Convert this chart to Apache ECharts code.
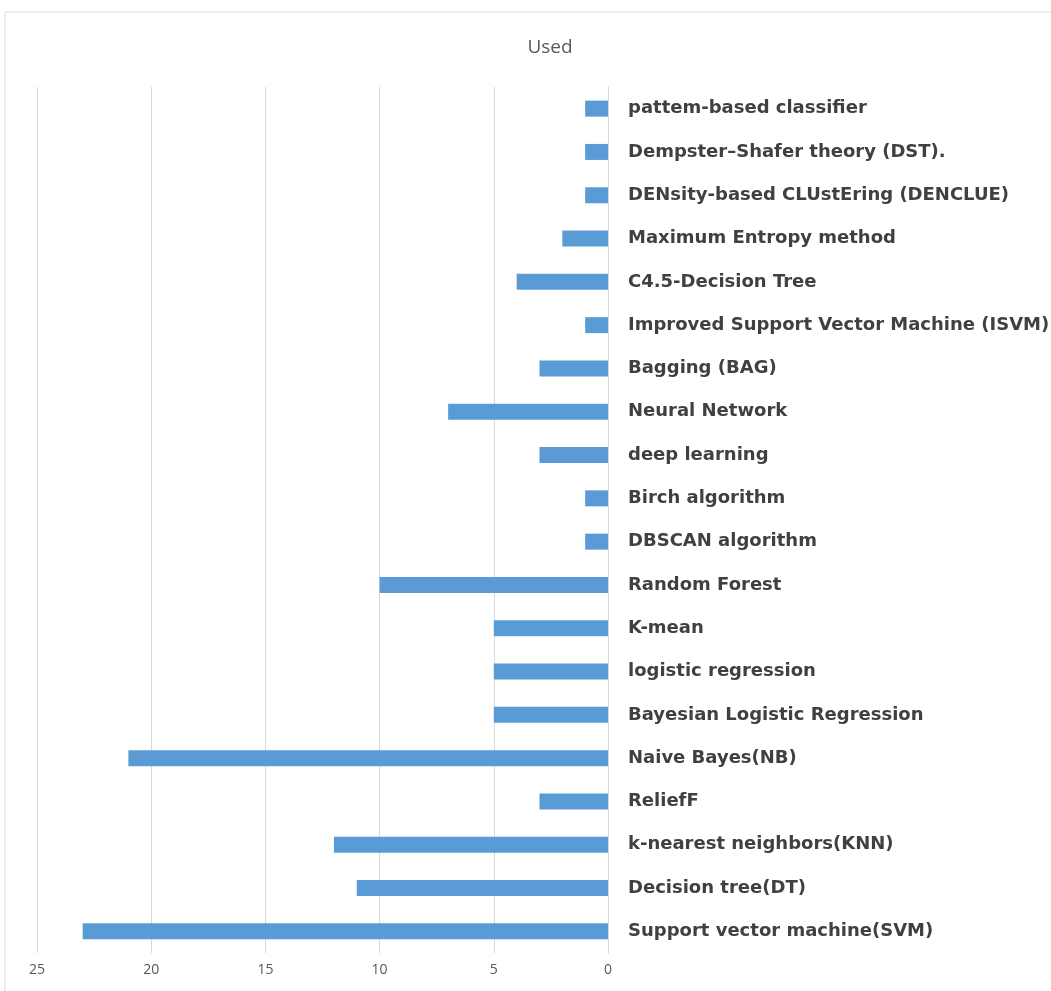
<!DOCTYPE html>
<html>
<head>
<meta charset="utf-8">
<script src="https://cdn.jsdelivr.net/npm/echarts@6/dist/echarts.min.js"></script>
<style>
  body { margin: 0; background: #fff; }
  #main { width: 1051px; height: 991px; }
</style>
</head>
<body>
<div id="main"></div>
<script>
// 数据
const categories = [
    'pattem-based classifier',
    'Dempster–Shafer theory (DST).',
    'DENsity-based CLUstEring (DENCLUE)',
    'Maximum Entropy method',
    'C4.5-Decision Tree',
    'Improved Support Vector Machine (ISVM)',
    'Bagging (BAG)',
    'Neural Network',
    'deep learning',
    'Birch algorithm',
    'DBSCAN algorithm',
    'Random Forest',
    'K-mean',
    'logistic regression',
    'Bayesian Logistic Regression',
    'Naive Bayes(NB)',
    'ReliefF',
    'k-nearest neighbors(KNN)',
    'Decision tree(DT)',
    'Support vector machine(SVM)'
];
const usedValues = [1, 1, 1, 2, 4, 1, 3, 7, 3, 1, 1, 10, 5, 5, 5, 21, 3, 12, 11, 23];
const axisMax = 25;
const axisStep = 5;

const myChart = echarts.init(document.getElementById('main'));

const option = {
    animation: false,
    title: {
        text: 'Used',
        left: 545,
        top: 33,
        textAlign: 'center',
        textStyle: {
            fontFamily: 'Open Sans',
            fontWeight: 'normal',
            fontSize: 19,
            color: '#595959'
        }
    },
    graphic: [{
        type: 'rect',
        shape: { x: 5, y: 12, width: 1100, height: 1100 },
        style: { fill: 'none', stroke: '#d9d9d9', lineWidth: 1 },
        silent: true
    }],
    grid: {
        left: 37,
        right: 443,
        top: 87,
        bottom: 38,
        outerBoundsMode: 'none'
    },
    xAxis: {
        type: 'value',
        inverse: true,
        min: 0,
        max: axisMax,
        interval: axisStep,
        axisLine: { show: false },
        axisTick: { show: false },
        splitLine: { lineStyle: { color: '#d9d9d9', width: 1 } },
        axisLabel: {
            color: '#595959',
            fontSize: 14,
            fontFamily: 'Open Sans',
            margin: 10
        }
    },
    yAxis: {
        type: 'category',
        position: 'right',
        inverse: true,
        data: categories,
        axisLine: { show: true, lineStyle: { color: '#d9d9d9' } },
        axisTick: { show: false },
        axisLabel: {
            color: '#404040',
            fontSize: 18,
            fontWeight: 'bold',
            fontFamily: 'DejaVu Sans',
            margin: 20
        }
    },
    series: [{
        name: 'Used',
        type: 'bar',
        data: usedValues,
        barWidth: 16,
        itemStyle: { color: '#5b9bd5' }
    }]
};

myChart.setOption(option);
</script>
</body>
</html>
